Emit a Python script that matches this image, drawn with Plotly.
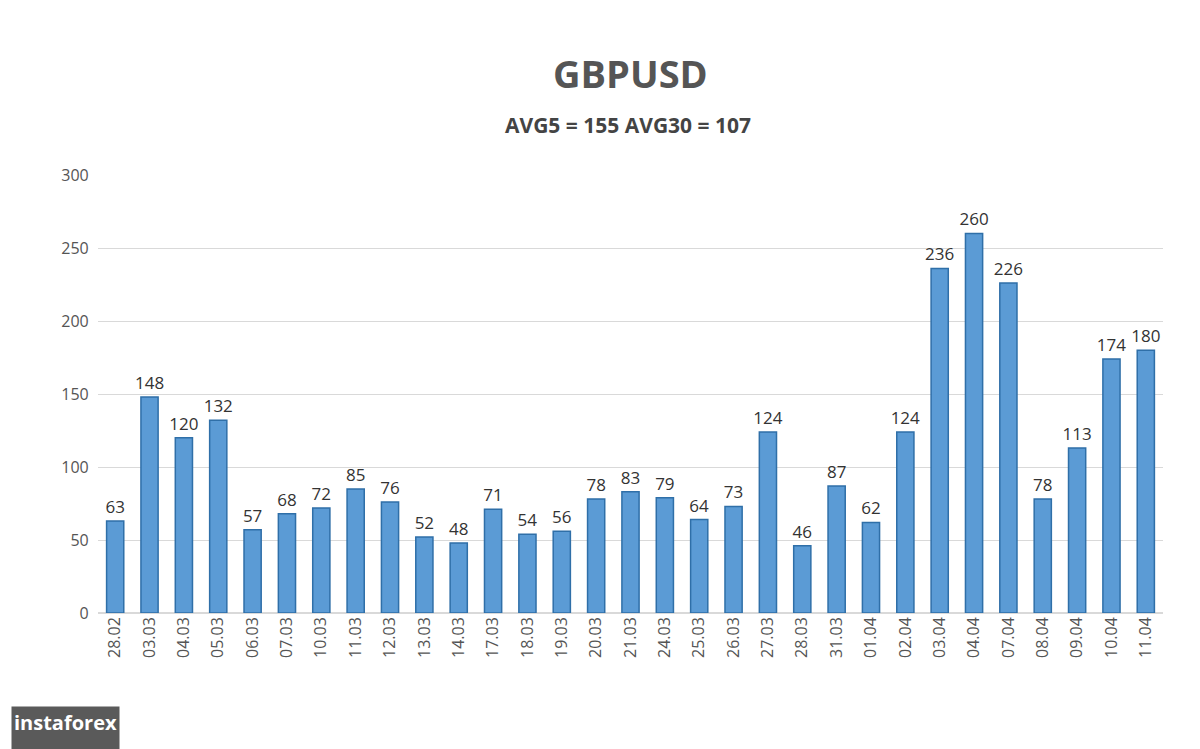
import plotly.graph_objects as go

dates = ["28.02", "03.03", "04.03", "05.03", "06.03", "07.03", "10.03", "11.03", "12.03", "13.03",
         "14.03", "17.03", "18.03", "19.03", "20.03", "21.03", "24.03", "25.03", "26.03", "27.03",
         "28.03", "31.03", "01.04", "02.04", "03.04", "04.04", "07.04", "08.04", "09.04", "10.04", "11.04"]
values = [63, 148, 120, 132, 57, 68, 72, 85, 76, 52, 48, 71, 54, 56, 78, 83, 79, 64, 73, 124,
          46, 87, 62, 124, 236, 260, 226, 78, 113, 174, 180]

fig = go.Figure(go.Bar(
    x=dates, y=values, text=values, textposition="outside", constraintext="none",
    textfont=dict(size=17, color="#333"),
    marker=dict(color="#5b9bd5", line=dict(color="#2f6fa8", width=1.5)),
    width=0.5, cliponaxis=False,
))

top, bottom, left, right = 167, 144, 90, 45
fig.update_layout(
    width=1200, height=749,
    paper_bgcolor="white", plot_bgcolor="white",
    font=dict(family="Open Sans, DejaVu Sans", color="#444"),
    margin=dict(l=left, r=right, t=top, b=bottom),
    showlegend=False,
    uniformtext=dict(minsize=17, mode="show"),
)
ph = 749 - top - bottom
pw = 1200 - left - right
def py(y):
    return (749 - bottom - y) / ph
def px(x):
    return (x - left) / pw

fig.add_annotation(text="<b>GBPUSD</b>", x=px(622), y=py(65), xref="paper", yref="paper",
                   yanchor="middle", showarrow=False, font=dict(size=38, color="#555"))
fig.add_annotation(text="<b>AVG5 = 155 AVG30 = 107</b>", x=px(620), y=py(117), xref="paper",
                   yref="paper", yanchor="middle", showarrow=False, font=dict(size=21, color="#444"))
fig.add_annotation(text="<b>instaforex</b><br><span style='font-size:9px'>Instant Forex Trading</span>",
                   x=px(3), y=py(726), xref="paper", yref="paper", xanchor="left", yanchor="middle",
                   showarrow=False, align="left", font=dict(size=20, color="white"),
                   bgcolor="#5a5a5a", borderpad=2)

fig.update_xaxes(tickangle=-90, tickfont=dict(size=16, color="#555"), showline=False)
fig.update_yaxes(range=[0, 300], dtick=50, tickfont=dict(size=16, color="#555"),
                 gridcolor="#d9d9d9", zeroline=True, zerolinecolor="#d9d9d9", ticksuffix="  ")

fig.write_html("out.html")
